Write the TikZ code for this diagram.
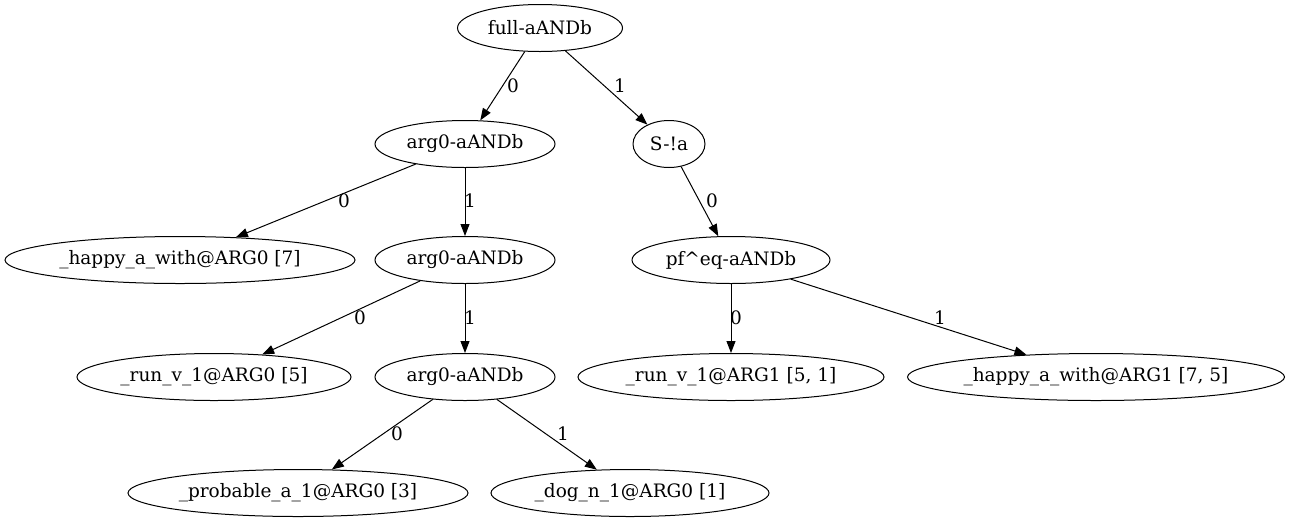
\documentclass[tikz,border=0pt]{standalone}
\usepackage{fontspec}
\setmainfont{DejaVu Serif}
\usetikzlibrary{shapes.geometric,arrows.meta}
\begin{document}
\begin{tikzpicture}[x=1pt,y=-1pt,
  every node/.style={font=\fontsize{18.5}{22}\selectfont},
  tnode/.style={ellipse,draw,line width=1pt,inner sep=0pt,minimum height=47pt},
  lab/.style={inner sep=0pt},
  edge/.style={line width=1pt,-{Triangle[length=12pt,width=9pt]}}]
\useasboundingbox (0,0) rectangle (1289,523);
% tree nodes
\node[tnode,minimum width=165pt] (full) at (540,28) {full-aANDb};
\node[tnode,minimum width=180pt] (a1) at (465,144) {arg0-aANDb};
\node[tnode,minimum width=72pt] (s) at (669,144) {S-!a};
\node[tnode,minimum width=350pt] (h0) at (180,260) {\_happy\_a\_with@ARG0 [7]};
\node[tnode,minimum width=180pt] (a2) at (465,260) {arg0-aANDb};
\node[tnode,minimum width=198pt] (pf) at (731,260) {pf\char`\^eq-aANDb};
\node[tnode,minimum width=274pt] (r0) at (214,377) {\_run\_v\_1@ARG0 [5]};
\node[tnode,minimum width=180pt] (a3) at (465,377) {arg0-aANDb};
\node[tnode,minimum width=306pt] (r1) at (731,377) {\_run\_v\_1@ARG1 [5, 1]};
\node[tnode,minimum width=377pt] (h1) at (1096,377) {\_happy\_a\_with@ARG1 [7, 5]};
\node[tnode,minimum width=340pt] (p0) at (298,493) {\_probable\_a\_1@ARG0 [3]};
\node[tnode,minimum width=278pt] (d0) at (630,493) {\_dog\_n\_1@ARG0 [1]};
% connectors
\draw[edge] (full) -- (a1);
\draw[edge] (full) -- (s);
\draw[edge] (a1) -- (h0);
\draw[edge] (a1) -- (a2);
\draw[edge] (s) -- (pf);
\draw[edge] (a2) -- (r0);
\draw[edge] (a2) -- (a3);
\draw[edge] (pf) -- (r1);
\draw[edge] (pf) -- (h1);
\draw[edge] (a3) -- (p0);
\draw[edge] (a3) -- (d0);
% edge labels
\node[lab] (l1) at (513,86) {0};
\node[lab] (l2) at (620,86) {1};
\node[lab] (l3) at (344,201) {0};
\node[lab] (l4) at (470,201) {1};
\node[lab] (l5) at (712,201) {0};
\node[lab] (l6) at (360,318) {0};
\node[lab] (l7) at (470,318) {1};
\node[lab] (l8) at (736,318) {0};
\node[lab] (l9) at (940,318) {1};
\node[lab] (l10) at (397,434) {0};
\node[lab] (l11) at (563,434) {1};
\end{tikzpicture}
\end{document}
